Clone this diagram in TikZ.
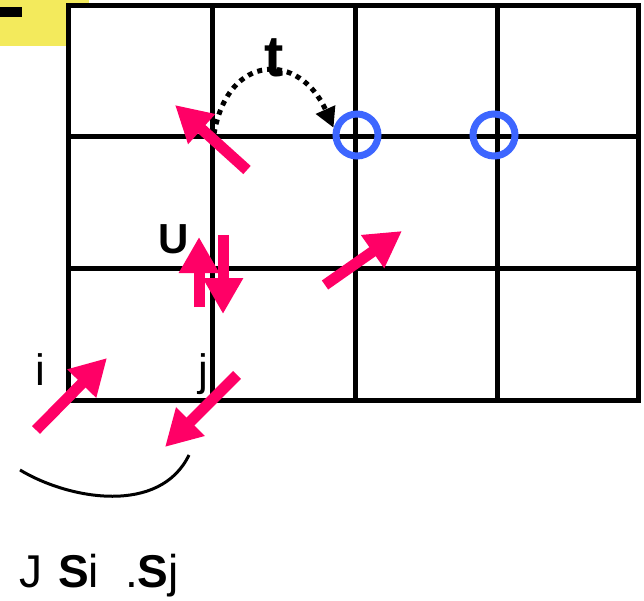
\documentclass[tikz,border=0pt]{standalone}
\usepackage{fontspec}
\setmainfont{Liberation Sans}
\usetikzlibrary{arrows.meta}
\definecolor{spinpink}{RGB}{255,0,102}
\definecolor{holeblue}{RGB}{61,102,255}
\definecolor{tagyellow}{RGB}{243,234,92}

\begin{document}
\begin{tikzpicture}[x=1pt,y=-1pt,
  spin/.style={draw=spinpink,line width=11pt,-{Triangle[width=38pt,length=36pt]}},
  hole/.style={circle,draw=holeblue,line width=7pt,minimum size=42pt,inner sep=0pt},
  gridline/.style={line width=5pt}]
\useasboundingbox (0,0) rectangle (644,601);
\fill[tagyellow] (0,0) rectangle (89,46);
\fill[black] (0,7) rectangle (22,17);
\fill[white] (68,6) rectangle (638,400);
\draw[gridline] (212,6) -- (212,400);
\draw[gridline] (355,6) -- (355,400);
\draw[gridline] (497,6) -- (497,400);
\draw[gridline] (68,137) -- (638,137);
\draw[gridline] (68,268) -- (638,268);
\draw[gridline,line cap=rect] (68,6) rectangle (638,400);
\node[hole] (h1) at (357,135) {};
\node[hole] (h2) at (494,135) {};
\coordinate (hopstart) at (214,134);
\draw[line width=5pt,dash pattern=on 5pt off 5pt,-{Triangle[width=20pt,length=20pt]}]
  (hopstart) .. controls (228,52) and (300,52) .. (h1.163);
\node[font=\bfseries\fontsize{58}{58}\selectfont] (hop) at (274,58) {t};
\node[font=\bfseries\fontsize{42}{42}\selectfont] (onsite) at (174,239) {U};
\node[anchor=base,font=\fontsize{44}{44}\selectfont] (sitei) at (40,385) {i};
\node[anchor=base,font=\fontsize{44}{44}\selectfont] (sitej) at (203,385) {j};
% spins
\draw[spin] (247,170) -- (175,105);
\draw[spin] (199,307) -- (199,237);
\draw[spin] (223,235) -- (223,314);
\draw[spin] (325,285) -- (402,231);
\draw[spin] (36,430) -- (107,358);
\draw[spin] (237,375) -- (165,447);
\draw[line width=3pt] (20,470) .. controls (70,500) and (160,515) .. (189,455);
\node[anchor=base west,inner sep=0pt,font=\fontsize{46}{46}\selectfont] (exch) at (19,587)
  {J\hspace{16pt}\textbf{S}i\hspace{26pt}.\textbf{S}j};
\end{tikzpicture}
\end{document}
